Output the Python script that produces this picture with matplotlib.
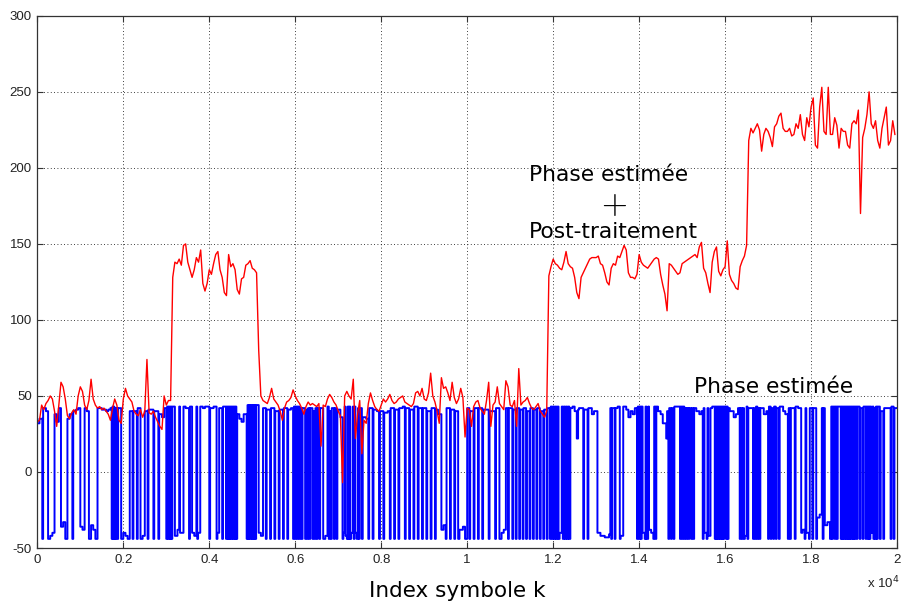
import numpy as np
import matplotlib
matplotlib.use("Agg")
import matplotlib.pyplot as plt

# sample spacing of the tabulated red values (symbol index k)
step = 50

# "Phase estimée + Post-traitement" (red), one value every 50 symbols
red_phase = [
    33, 34, 44, 41, 45, 47, 50, 48, 40, 30, 44, 59, 56, 48, 37, 35, 39, 41, 38, 50,
    56, 53, 44, 41, 47, 61, 48, 44, 42, 43, 41, 42, 40, 38, 34, 42, 48, 44, 34, 32,
    48, 55, 50, 48, 46, 40, 38, 37, 41, 36, 40, 74, 39, 38, 40, 36, 33, 30, 28, 50,
    44, 47, 47, 128, 138, 137, 140, 136, 149, 150, 138, 133, 128, 133, 141, 138, 146, 124, 119, 124,
    133, 130, 137, 143, 145, 133, 128, 118, 116, 143, 135, 137, 133, 120, 117, 127, 128, 136, 137, 139,
    134, 133, 131, 80, 50, 47, 46, 45, 49, 55, 48, 46, 44, 40, 34, 42, 46, 47, 49, 54,
    50, 47, 45, 42, 38, 43, 46, 44, 45, 44, 43, 45, 17, 44, 43, 48, 51, 49, 46, 44,
    40, 37, -7, 50, 53, 50, 48, 61, 22, 38, 47, 12, 34, 32, 45, 52, 47, 43, 41, 40,
    44, 48, 46, 48, 51, 47, 45, 46, 48, 49, 50, 46, 45, 44, 43, 45, 52, 53, 50, 55,
    48, 47, 52, 65, 50, 46, 40, 32, 62, 55, 56, 52, 47, 59, 49, 45, 48, 55, 49, 23,
    42, 41, 30, 43, 46, 47, 42, 40, 38, 47, 59, 30, 44, 46, 56, 45, 43, 41, 60, 56,
    44, 43, 47, 30, 68, 44, 46, 47, 49, 45, 42, 41, 43, 45, 40, 38, 36, 40, 129, 135,
    140, 137, 136, 134, 133, 138, 145, 137, 135, 134, 128, 118, 114, 128, 131, 134, 137, 140, 141, 141,
    141, 142, 137, 136, 131, 125, 123, 134, 137, 136, 142, 141, 145, 149, 146, 131, 128, 128, 127, 130,
    143, 138, 136, 135, 134, 136, 138, 140, 141, 140, 130, 123, 117, 106, 137, 136, 134, 132, 130, 131,
    137, 138, 139, 140, 141, 142, 143, 141, 148, 151, 134, 131, 124, 118, 138, 145, 148, 132, 129, 133,
    135, 152, 130, 126, 124, 121, 120, 135, 139, 142, 149, 218, 226, 223, 226, 229, 225, 211, 222, 226,
    224, 220, 214, 227, 229, 234, 236, 226, 224, 224, 226, 221, 222, 229, 226, 235, 222, 218, 233, 227,
    240, 246, 215, 213, 240, 253, 224, 222, 253, 222, 222, 233, 228, 213, 226, 224, 224, 215, 213, 229,
    231, 229, 238, 170, 220, 226, 235, 250, 229, 226, 231, 218, 213, 226, 233, 240, 215, 218, 231, 222,
]

# "Phase estimée" (blue, wrapped phase): [symbol index where a level starts, level]
blue_steps = [
    [0, 32], [50, 35], [115, -44], [135, 42], [200, 40], [250, -44], [300, -42], [350, -40], [400, 38], [450, 33],
    [500, 42], [550, -36], [600, -33], [650, -44], [700, 35], [750, 38], [815, -44], [835, 40], [900, 41], [950, 42],
    [1000, -36], [1050, -38], [1100, 42], [1150, 40], [1200, -44], [1250, -35], [1300, -38], [1350, -44], [1400, 42],
    [1500, 41], [1600, 40], [1650, 41], [1700, 42], [1730, -44], [1748, 43], [1760, -44], [1778, 43], [1790, -44],
    [1808, 42], [1820, -44], [1838, 42], [1865, -44], [1880, 42], [1950, -44],
    [2000, -40], [2050, -42], [2100, -44], [2150, 40], [2215, -44], [2235, 40], [2315, -44], [2335, 42], [2400, -44],
    [2450, -42], [2500, 40], [2565, -44], [2585, 41], [2700, -44], [2720, 40], [2815, -44], [2835, 38], [2900, 36], [2950, 42],
    [3000, -44], [3020, 43], [3040, -44], [3060, 43], [3080, -44], [3100, 43], [3120, -44], [3140, 43], [3200, -42],
    [3260, -38], [3300, 43], [3320, -40], [3400, 43], [3450, 42], [3530, -44], [3550, 43], [3600, -40], [3650, -42],
    [3700, 43], [3720, -44], [3740, -40], [3790, 43], [3850, 42], [3900, 43],
    [4000, -44], [4020, 42], [4100, 43], [4170, -44], [4190, -40], [4230, 42], [4300, -44], [4320, 43], [4390, -44],
    [4410, 43], [4430, -44], [4450, 43], [4470, -44], [4490, 43], [4510, -44], [4530, 43], [4550, -44], [4570, 43],
    [4590, -44], [4610, 43], [4630, -44], [4650, 38], [4700, 35], [4750, 33], [4800, 38], [4870, -44], [4890, 44],
    [4910, -44], [4930, 44], [4950, -44], [4970, 44], [4990, -44],
    [5010, 44], [5030, -44], [5050, 44], [5070, -44], [5090, 44], [5150, -40], [5200, -42], [5250, 42], [5315, -44],
    [5335, 41], [5415, -44], [5435, 42], [5515, -44], [5535, 40], [5615, -44], [5635, 41], [5715, -44], [5735, 42],
    [5815, -44], [5835, 41], [5900, 42], [5950, -44], [5970, 43],
    [6000, -44], [6020, 43], [6050, -44], [6070, 43], [6100, -44], [6120, 42], [6150, -44], [6170, 42], [6230, -44],
    [6250, 41], [6280, -44], [6300, 42], [6330, -44], [6350, 42], [6400, -44], [6420, 40], [6450, -44], [6470, 42],
    [6500, -44], [6520, 42], [6560, -44], [6580, 42], [6650, -44], [6700, -42], [6750, 43], [6780, -44], [6800, 40],
    [6830, -44], [6850, 42], [6900, -44], [6920, 42], [6960, -44], [6980, 41],
    [7050, 36], [7100, -44], [7120, -40], [7150, 43], [7170, -42], [7200, -44], [7220, 43], [7240, -44], [7260, 43],
    [7280, -44], [7300, -40], [7340, 43], [7360, -44], [7380, 43], [7400, -40], [7430, -44], [7460, 42], [7480, -44],
    [7500, 42], [7550, -44], [7570, 36], [7650, 35], [7700, -44], [7720, 42], [7800, -44], [7820, 41], [7900, 40],
    [7950, -44], [7970, 40],
    [8050, -44], [8070, 39], [8150, 40], [8200, -44], [8220, 42], [8300, -44], [8320, 41], [8400, -44], [8420, 42],
    [8500, 43], [8550, -44], [8570, 42], [8650, -44], [8670, 41], [8750, -44], [8770, 43], [8850, -44], [8870, 42],
    [8950, -44], [8970, 42],
    [9050, -44], [9070, 40], [9150, -44], [9170, 42], [9250, -44], [9270, 41], [9320, 38], [9400, -38], [9450, -35],
    [9500, -44], [9520, 42], [9600, -44], [9620, 41], [9700, -44], [9720, 40], [9790, -44], [9820, -38], [9900, -36],
    [9950, -44],
    [10000, 42], [10050, -44], [10070, 40], [10150, -44], [10170, 42], [10250, -44], [10270, 42], [10350, -44],
    [10370, 41], [10500, -44], [10520, 40], [10650, -44], [10670, 42], [10750, -44], [10800, -40], [10850, -38],
    [10900, 42], [10950, -44], [10970, 42],
    [11050, -44], [11070, 41], [11130, -44], [11150, 42], [11210, -44], [11230, 41], [11290, -44], [11310, 42],
    [11370, -44], [11390, 40], [11450, -44], [11470, 42], [11530, -44], [11550, 41], [11610, -44], [11630, 42],
    [11690, -44], [11710, 40], [11770, -44], [11790, 41], [11850, -44], [11870, 42], [11925, -44], [11945, 43],
    [11975, -44], [12000, 43], [12025, -44], [12050, 43], [12075, -44], [12100, 43], [12125, -44], [12150, -40],
    [12200, 43], [12225, -44], [12250, 43], [12275, -44], [12300, 43], [12325, -44], [12350, 43], [12375, -44],
    [12400, 42], [12450, 43], [12500, 40], [12550, 22], [12580, 41], [12600, 42], [12700, -44], [12720, 41],
    [12800, -44], [12820, 42], [12900, 38], [12950, 40],
    [13030, -40], [13100, -42], [13200, -43], [13300, -41], [13330, 42], [13350, -44], [13370, 42], [13430, -44],
    [13450, 42], [13500, 43], [13550, -44], [13570, -42], [13630, 43], [13700, 41], [13750, 36], [13800, 40],
    [13850, 38], [13900, 42], [13950, -44], [13970, 43],
    [14000, -44], [14020, 43], [14040, -44], [14060, 43], [14080, -40], [14130, -44], [14150, 43], [14170, -44],
    [14210, 43], [14230, -38], [14280, -40], [14330, -44], [14350, 43], [14380, -44], [14400, 43], [14440, 40],
    [14500, 38], [14550, 32], [14630, 22], [14650, 40], [14680, -44], [14700, 42], [14740, -44], [14760, 42],
    [14800, -44], [14820, 43], [14950, -44], [14970, 43],
    [15000, -44], [15020, 43], [15050, -44], [15070, 42], [15100, -44], [15120, 42], [15150, -44], [15170, 42],
    [15210, -44], [15230, 42], [15260, -44], [15280, 42], [15330, 40], [15400, 38], [15450, 40], [15480, -44],
    [15500, 42], [15520, -40], [15570, -44], [15590, 42], [15610, -42], [15660, 42], [15700, 43], [15760, -44],
    [15780, 43], [15800, -44], [15820, 43], [15840, -44], [15860, 43], [15880, -44], [15900, 43], [15920, -44],
    [15940, 43], [15960, -44], [15980, 43],
    [16020, -44], [16040, 43], [16060, -44], [16080, 42], [16110, 40], [16200, 36], [16250, 38], [16300, 42],
    [16340, -44], [16360, 42], [16390, -44], [16410, 42], [16440, -44], [16460, -42], [16500, 43], [16520, -44],
    [16540, 42], [16650, -44], [16670, 42], [16700, -44], [16720, 43], [16750, -44], [16770, 42], [16800, -44],
    [16820, 42], [16900, 38], [16960, 40],
    [17000, -44], [17020, 43], [17060, -44], [17080, 42], [17120, -44], [17140, 43], [17180, -44], [17200, 42],
    [17250, -44], [17270, 43], [17350, 40], [17400, 38], [17460, -44], [17480, 42], [17510, -44], [17530, 42],
    [17620, -44], [17640, 43], [17700, 42], [17770, -40], [17800, -38], [17850, -44], [17870, 42], [17890, -40],
    [17950, -44], [17970, 42],
    [18030, -44], [18050, 42], [18120, -44], [18140, -30], [18200, -28], [18250, 42], [18270, -44], [18290, 42],
    [18320, -35], [18380, -33], [18440, -44], [18470, 43], [18490, -44], [18510, 43], [18550, -44], [18570, 43],
    [18600, -44], [18620, 43], [18690, -44], [18710, 43], [18730, -44], [18750, 43], [18770, -44], [18790, 43],
    [18810, -44], [18830, 43], [18850, -44], [18870, 43], [18890, -44], [18910, 43], [18930, -44], [18950, 43],
    [18970, -44], [18990, 43],
    [19010, -44], [19030, 43], [19060, -44], [19080, 43], [19130, -44], [19150, 42], [19200, -44], [19220, 43],
    [19270, -44], [19290, 43], [19320, -44], [19340, 43], [19360, -44], [19380, 43], [19400, -40], [19430, 43],
    [19450, -44], [19470, 42], [19490, -44], [19510, 43], [19530, -44], [19550, 43], [19600, -44], [19620, 40],
    [19680, -44], [19700, 42], [19850, -44], [19870, 43], [19920, -44], [19940, 42], [19980, 42],
]

x_ticks = [0, 2000, 4000, 6000, 8000, 10000, 12000, 14000, 16000, 18000, 20000]
x_tick_labels = ["0", "0.2", "0.4", "0.6", "0.8", "1", "1.2", "1.4", "1.6", "1.8", "2"]
y_ticks = [-50, 0, 50, 100, 150, 200, 250, 300]

label_font = ["DejaVu Sans"]
tick_font = ["Liberation Sans", "DejaVu Sans"]

fig = plt.figure(figsize=(9.04, 6.02), dpi=100)
ax = fig.add_axes([0.0413, 0.0897, 0.951, 0.884])

blue_k = [p[0] for p in blue_steps]
blue_v = [p[1] for p in blue_steps]
ax.plot(blue_k, blue_v, color="#0000ff", lw=1.4, drawstyle="steps-post")

k = np.arange(len(red_phase)) * step
ax.plot(k, red_phase, color="#ff0000", lw=1.0)

ax.set_xlim(0, 20000)
ax.set_ylim(-50, 300)
ax.set_xticks(x_ticks)
ax.set_xticklabels(x_tick_labels)
ax.set_yticks(y_ticks)
ax.set_yticklabels([str(v) for v in y_ticks])
for lab in ax.get_xticklabels() + ax.get_yticklabels():
    lab.set_family(tick_font)
    lab.set_fontsize(9.5)
    lab.set_color("#222222")

ax.grid(True, linestyle=(0, (1, 3)), color="black", lw=0.6)
ax.tick_params(direction="in", top=True, right=True, length=4, width=0.8,
               color="#333333", pad=4)
for s in ax.spines.values():
    s.set_color("#333333")
    s.set_linewidth(0.9)

ax.set_xlabel("Index symbole k", family=label_font, fontsize=15.5, labelpad=11)
ax.xaxis.label.set_x(0.489)
ax.text(0.9648, -0.066, r"x 10$^{4}$", transform=ax.transAxes, fontsize=9.5,
        family=tick_font, color="#222222", ha="left", va="center")

ax.text(11435, 191.6, "Phase estimée", family=label_font, fontsize=15.7, ha="left", va="baseline")
ax.text(13411, 175.9, "+", family=["cmss10"], fontsize=24, ha="center", va="center")
ax.text(11435, 153.6, "Post-traitement", family=label_font, fontsize=15.7, ha="left", va="baseline")
ax.text(15276, 51.8, "Phase estimée", family=label_font, fontsize=15.7, ha="left", va="baseline")

fig.savefig("out.png", dpi=100)
